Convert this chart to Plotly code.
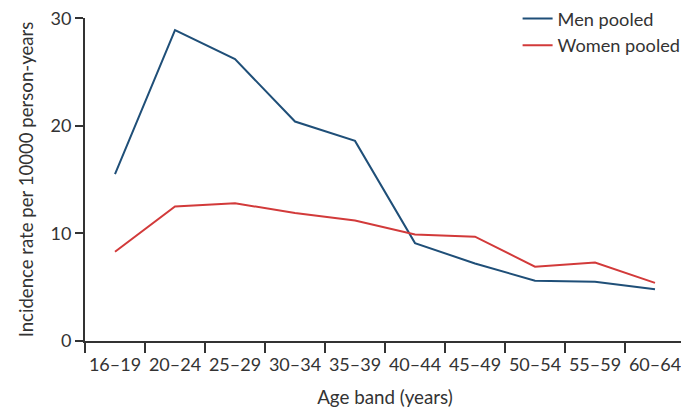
import plotly.graph_objects as go

age_bands = ["16–19", "20–24", "25–29", "30–34", "35–39", "40–44", "45–49", "50–54", "55–59", "60–64"]
men_pooled = [15.5, 28.9, 26.2, 20.4, 18.6, 9.1, 7.2, 5.6, 5.5, 4.8]
women_pooled = [8.3, 12.5, 12.8, 11.9, 11.2, 9.9, 9.7, 6.9, 7.3, 5.4]
y_ticks = [0, 10, 20, 30]

FONT = "Lato, Open Sans, sans-serif"
TXT = "#333333"

fig = go.Figure()
fig.add_trace(go.Scatter(x=age_bands, y=men_pooled, mode="lines", name="Men pooled",
                         line=dict(color="#1f4f78", width=2)))
fig.add_trace(go.Scatter(x=age_bands, y=women_pooled, mode="lines", name="Women pooled",
                         line=dict(color="#d23a3a", width=2)))

# page body has an 8px margin, so the figure is sized/offset to compensate
fig.update_layout(
    width=681, height=402,
    margin=dict(l=77, r=4, t=10, b=69, autoexpand=False),
    paper_bgcolor="white", plot_bgcolor="white",
    font=dict(family=FONT, size=16, color=TXT),
    showlegend=True,
    legend=dict(x=0.721, xanchor="left", y=1.055, yanchor="top",
                bgcolor="rgba(0,0,0,0)", font=dict(size=18.2, color=TXT),
                tracegroupgap=0, itemwidth=30),
    xaxis=dict(
        type="category", range=[-0.5, 9.5], tickson="boundaries",
        showline=True, linecolor=TXT, linewidth=2,
        ticks="outside", ticklen=10, tickwidth=2, tickcolor=TXT,
        showgrid=False, zeroline=False, automargin=False, tickangle=0,
        ticklabelstandoff=6,
        tickfont=dict(size=18, color=TXT),
        title=dict(text="Age band (years)", font=dict(size=18.8, color=TXT), standoff=17),
    ),
    yaxis=dict(
        range=[0, 30.02], tickvals=y_ticks,
        showline=True, linecolor=TXT, linewidth=2,
        ticks="outside", ticklen=8, tickwidth=2, tickcolor=TXT,
        showgrid=False, zeroline=False, automargin=False,
        ticklabeloverflow="allow",
        tickfont=dict(size=18, color=TXT),
        title=dict(text="Incidence rate per 10000 person-years", font=dict(size=18.6, color=TXT), standoff=12),
    ),
)

fig.write_html("out.html")
